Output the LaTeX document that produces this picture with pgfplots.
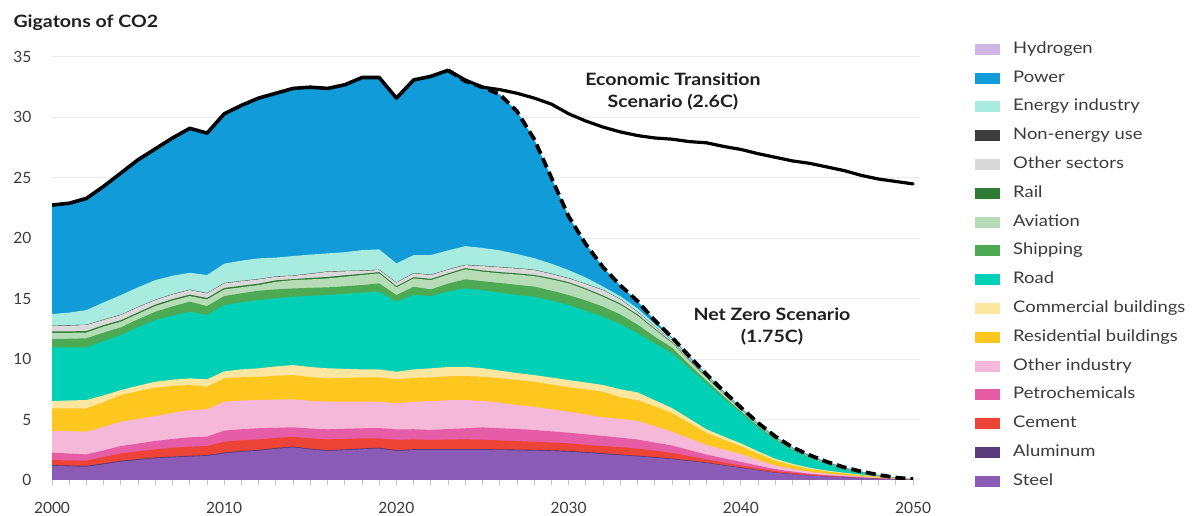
\documentclass[border=0pt]{standalone}
\usepackage{pgfplots}
\pgfplotsset{compat=1.18}
\usepackage{pgfplotstable}
\usepackage{fontspec}
\setmainfont{Lato}
\newfontfamily\widefont{Lato}[FakeStretch=1.15]
\definecolor{hydrogen}{HTML}{CDB6E3}
\definecolor{power}{HTML}{119BD8}
\definecolor{energy}{HTML}{A8ECDF}
\definecolor{nonenergy}{HTML}{3C3C3C}
\definecolor{othsec}{HTML}{D9D9D9}
\definecolor{rail}{HTML}{2E7B36}
\definecolor{aviation}{HTML}{B5DDB5}
\definecolor{shipping}{HTML}{4CAA54}
\definecolor{road}{HTML}{00D1B6}
\definecolor{comm}{HTML}{FDE6A0}
\definecolor{resid}{HTML}{FDC71F}
\definecolor{othind}{HTML}{F6B8D9}
\definecolor{petro}{HTML}{E65DA6}
\definecolor{cement}{HTML}{EC4437}
\definecolor{alu}{HTML}{5A3A78}
\definecolor{steel}{HTML}{8B5CB5}
\definecolor{gridgray}{HTML}{EBEBEB}
\definecolor{tickgray}{HTML}{C4C4C4}
\definecolor{labelgray}{HTML}{3A3A3A}
% cumulative tops of each layer (Gt CO2)
\pgfplotstableread{
yr   tot   en    ne    os    rl    av    sh    rd    co   re   oi   pc   ce   al   st
2000 22.75 13.73 12.77 12.74 12.29 12.17 11.66 10.97 6.53 5.93 4.08 2.26 1.65 1.23 1.16
2001 22.9  13.85 12.81 12.78 12.30 12.18 11.69 10.97 6.58 5.93 4.04 2.19 1.62 1.20 1.13
2002 23.3  14.06 12.85 12.82 12.32 12.20 11.72 10.97 6.62 5.93 4.00 2.12 1.60 1.17 1.10
2003 24.3  14.70 13.28 13.25 12.82 12.70 12.20 11.50 7.00 6.45 4.40 2.45 1.90 1.37 1.30
2004 25.4  15.30 13.68 13.65 13.22 13.10 12.63 11.99 7.44 7.03 4.82 2.81 2.20 1.59 1.52
2005 26.5  15.95 14.33 14.30 13.87 13.75 13.30 12.65 7.80 7.35 5.05 3.02 2.37 1.73 1.66
2006 27.4  16.54 14.92 14.89 14.51 14.39 13.92 13.23 8.13 7.64 5.29 3.23 2.54 1.86 1.79
2007 28.3  16.90 15.38 15.35 14.97 14.85 14.37 13.60 8.30 7.78 5.55 3.40 2.66 1.94 1.87
2008 29.1  17.15 15.75 15.72 15.34 15.22 14.75 13.92 8.41 7.86 5.79 3.53 2.76 2.00 1.93
2009 28.7  16.96 15.47 15.44 15.06 14.94 14.39 13.65 8.33 7.72 5.85 3.59 2.81 2.06 1.99
2010 30.3  17.90 16.30 16.27 15.89 15.77 15.22 14.47 8.99 8.41 6.48 4.08 3.17 2.27 2.20
2011 31.0  18.15 16.48 16.45 16.07 15.95 15.45 14.70 9.15 8.50 6.58 4.20 3.28 2.40 2.33
2012 31.6  18.34 16.63 16.60 16.25 16.13 15.66 14.89 9.24 8.54 6.62 4.28 3.36 2.49 2.42
2013 32.0  18.40 16.85 16.82 16.52 16.40 15.77 15.03 9.40 8.62 6.65 4.32 3.48 2.65 2.58
2014 32.4  18.53 16.92 16.89 16.62 16.54 15.85 15.16 9.51 8.68 6.67 4.36 3.58 2.77 2.70
2015 32.5  18.65 17.08 17.05 16.72 16.60 15.90 15.23 9.35 8.52 6.55 4.26 3.45 2.59 2.52
2016 32.4  18.75 17.26 17.23 16.80 16.68 15.94 15.30 9.24 8.41 6.48 4.19 3.36 2.47 2.40
2017 32.7  18.85 17.30 17.27 16.94 16.82 16.03 15.40 9.20 8.45 6.48 4.24 3.40 2.54 2.47
2018 33.3  19.02 17.34 17.31 17.06 16.96 16.13 15.50 9.15 8.49 6.48 4.28 3.45 2.61 2.54
2019 33.3  19.08 17.40 17.37 17.20 17.10 16.27 15.57 9.15 8.49 6.48 4.30 3.45 2.67 2.60
2020 31.6  17.92 16.35 16.32 16.04 15.94 15.30 14.75 8.96 8.33 6.34 4.19 3.31 2.47 2.40
2021 33.1  18.61 17.13 17.10 16.78 16.68 15.99 15.30 9.15 8.45 6.48 4.20 3.36 2.55 2.48
2022 33.4  18.61 16.99 16.96 16.64 16.54 15.77 15.22 9.24 8.49 6.53 4.14 3.31 2.55 2.48
2023 33.9  19.00 17.43 17.40 17.10 17.00 16.25 15.60 9.35 8.58 6.60 4.22 3.34 2.55 2.48
2024 33.0  19.35 17.81 17.78 17.53 17.43 16.60 15.85 9.37 8.60 6.62 4.28 3.36 2.55 2.48
2025 32.5  19.20 17.73 17.70 17.34 17.24 16.45 15.70 9.25 8.55 6.55 4.35 3.33 2.55 2.48
2026 31.9  19.00 17.63 17.60 17.20 17.10 16.30 15.50 9.05 8.42 6.40 4.28 3.28 2.54 2.47
2027 30.5  18.70 17.53 17.50 17.10 17.00 16.15 15.30 8.85 8.27 6.20 4.22 3.22 2.52 2.45
2028 28.2  18.35 17.40 17.37 16.97 16.87 16.00 15.16 8.68 8.13 6.06 4.14 3.17 2.50 2.43
2029 25.0  17.90 17.08 17.05 16.70 16.60 15.67 14.85 8.48 7.90 5.85 4.03 3.10 2.46 2.39
2030 21.8  17.37 16.71 16.68 16.37 16.27 15.30 14.47 8.27 7.67 5.65 3.91 3.03 2.41 2.34
2031 19.5  16.75 16.23 16.20 15.85 15.75 14.85 14.00 8.07 7.50 5.42 3.78 2.92 2.32 2.25
2032 17.6  16.00 15.73 15.70 15.26 15.16 14.34 13.50 7.86 7.30 5.18 3.64 2.81 2.22 2.15
2033 16.1  15.20 14.98 14.95 14.60 14.50 13.70 12.90 7.50 6.85 5.05 3.50 2.72 2.11 2.05
2034 14.8  14.20 13.93 13.90 13.70 13.60 12.85 12.15 7.25 6.60 4.90 3.35 2.60 2.01 1.95
2035 13.2  12.90 12.72 12.70 12.53 12.45 11.85 11.30 6.60 6.10 4.45 3.10 2.43 1.90 1.84
2036 11.8  11.70 11.57 11.55 11.42 11.35 10.95 10.50 5.95 5.53 4.00 2.85 2.25 1.77 1.72
2037 10.25 10.12 10.02 10.00 9.91  9.85  9.55  9.25  5.08 4.72 3.45 2.48 1.98 1.62 1.57
2038 8.75  8.65  8.58  8.56  8.50  8.45  8.22  8.00  4.20 3.90 2.90 2.10 1.70 1.45 1.40
2039 7.35  7.26  7.20  7.19  7.14  7.10  6.92  6.75  3.60 3.33 2.52 1.80 1.45 1.24 1.20
2040 6.00  5.95  5.90  5.89  5.85  5.82  5.68  5.55  3.03 2.80 2.15 1.50 1.20 1.04 1.00
2041 4.72  4.66  4.62  4.61  4.58  4.56  4.45  4.35  2.37 2.18 1.65 1.19 0.97 0.83 0.80
2042 3.60  3.54  3.51  3.50  3.48  3.46  3.38  3.30  1.75 1.60 1.20 0.90 0.75 0.62 0.60
2043 2.70  2.63  2.60  2.60  2.58  2.57  2.51  2.45  1.34 1.22 0.92 0.70 0.59 0.49 0.47
2044 2.05  1.95  1.92  1.92  1.91  1.90  1.85  1.80  1.00 0.90 0.68 0.52 0.45 0.37 0.36
2045 1.50  1.42  1.40  1.40  1.39  1.38  1.34  1.30  0.78 0.70 0.52 0.40 0.34 0.29 0.28
2046 1.05  0.95  0.93  0.93  0.92  0.91  0.88  0.85  0.60 0.55 0.41 0.31 0.27 0.23 0.22
2047 0.70  0.62  0.60  0.60  0.60  0.59  0.57  0.55  0.44 0.40 0.29 0.22 0.19 0.17 0.16
2048 0.42  0.37  0.36  0.36  0.36  0.35  0.34  0.33  0.28 0.26 0.18 0.14 0.12 0.10 0.10
2049 0.20  0.18  0.17  0.17  0.17  0.17  0.16  0.15  0.15 0.13 0.09 0.07 0.06 0.05 0.05
2050 0.07  0.06  0.06  0.06  0.06  0.06  0.05  0.05  0.05 0.05 0.03 0.03 0.02 0.02 0.02
}\data
\begin{document}
\begin{tikzpicture}[x=1pt,y=1pt]
\useasboundingbox (0,0) rectangle (1194,516);
\begin{axis}[
  at={(52pt,36pt)}, anchor=south west, scale only axis,
  width=868pt, height=423pt,
  xmin=2000, xmax=2050.4, ymin=0, ymax=35,
  xtick={2000,2010,...,2050}, minor x tick num=9,
  ytick={0,5,...,35},
  ymajorgrids, grid style={color=gridgray, line width=1pt},
  axis line style={draw=none},
  xtick pos=lower, ytick pos=left,
  tick align=outside, major tick length=5pt, minor tick length=5pt,
  xtick style={color=tickgray, line width=0.9pt},
  ytick style={draw=none},
  ticklabel style={font=\fontsize{15.5}{18}\selectfont, text=labelgray},
  /pgf/number format/assume math mode=true,
  x tick label style={/pgf/number format/1000 sep={}, yshift=-14pt},
  y tick label style={xshift=-12pt},
  legend image code/.code={\fill[#1] (0pt,-5.5pt) rectangle (25pt,5.5pt); \path (38pt,0pt);},
  legend cell align=left,
  legend style={at={(axis description cs:1.0634,1.035)}, anchor=north west,
    draw=none, fill=none, inner sep=0pt, row sep=14.8pt,
    font=\widefont\fontsize{16}{19}\selectfont, text=labelgray,
    nodes={inner sep=0pt, text height=11pt, text depth=3pt}},
]
\addlegendimage{fill=hydrogen, draw=none}
\addlegendentry{Hydrogen}
\addplot[fill=power, draw=none] table[x=yr, y=tot] {\data} \closedcycle;
\addlegendentry{Power}
\addplot[fill=energy, draw=none] table[x=yr, y=en] {\data} \closedcycle;
\addlegendentry{Energy industry}
\addplot[fill=nonenergy, draw=none] table[x=yr, y=ne] {\data} \closedcycle;
\addlegendentry{Non-energy use}
\addplot[fill=othsec, draw=none] table[x=yr, y=os] {\data} \closedcycle;
\addlegendentry{Other sectors}
\addplot[fill=rail, draw=none] table[x=yr, y=rl] {\data} \closedcycle;
\addlegendentry{Rail}
\addplot[fill=aviation, draw=none] table[x=yr, y=av] {\data} \closedcycle;
\addlegendentry{Aviation}
\addplot[fill=shipping, draw=none] table[x=yr, y=sh] {\data} \closedcycle;
\addlegendentry{Shipping}
\addplot[fill=road, draw=none] table[x=yr, y=rd] {\data} \closedcycle;
\addlegendentry{Road}
\addplot[fill=comm, draw=none] table[x=yr, y=co] {\data} \closedcycle;
\addlegendentry{Commercial buildings}
\addplot[fill=resid, draw=none] table[x=yr, y=re] {\data} \closedcycle;
\addlegendentry{Residential buildings}
\addplot[fill=othind, draw=none] table[x=yr, y=oi] {\data} \closedcycle;
\addlegendentry{Other industry}
\addplot[fill=petro, draw=none] table[x=yr, y=pc] {\data} \closedcycle;
\addlegendentry{Petrochemicals}
\addplot[fill=cement, draw=none] table[x=yr, y=ce] {\data} \closedcycle;
\addlegendentry{Cement}
\addplot[fill=alu, draw=none] table[x=yr, y=al] {\data} \closedcycle;
\addlegendentry{Aluminum}
\addplot[fill=steel, draw=none] table[x=yr, y=st] {\data} \closedcycle;
\addlegendentry{Steel}
% net zero scenario (dashed)
\addplot[forget plot, black, line width=3.8pt, dash pattern=on 10pt off 5pt, line join=round,
  restrict x to domain=2023:2050] table[x=yr, y=tot] {\data};
% history (solid)
\addplot[forget plot, black, line width=3.6pt, line join=round, line cap=round,
  restrict x to domain=2000:2023] table[x=yr, y=tot] {\data};
% economic transition scenario
\addplot[forget plot, black, line width=3.2pt, line join=round, line cap=round] coordinates {
(2023,33.9) (2024,33.1) (2025,32.5) (2026,32.3) (2027,32.0) (2028,31.6) (2029,31.1)
(2030,30.3) (2031,29.7) (2032,29.2) (2033,28.8) (2034,28.5) (2035,28.3) (2036,28.2)
(2037,28.0) (2038,27.9) (2039,27.6) (2040,27.35) (2041,27.0) (2042,26.7) (2043,26.4)
(2044,26.2) (2045,25.9) (2046,25.6) (2047,25.2) (2048,24.9) (2049,24.7) (2050,24.5)};
\end{axis}
\node[anchor=base west, font=\widefont\bfseries\fontsize{17}{20}\selectfont, text=black!88] at (10,488) {Gigatons of CO2};
\node[align=center, font=\widefont\bfseries\fontsize{17}{22}\selectfont, text=black!88] at (673,424) {Economic Transition\\Scenario (2.6C)};
\node[align=center, font=\widefont\bfseries\fontsize{17}{22}\selectfont, text=black!88] at (772,189) {Net Zero Scenario\\(1.75C)};
\end{tikzpicture}
\end{document}
